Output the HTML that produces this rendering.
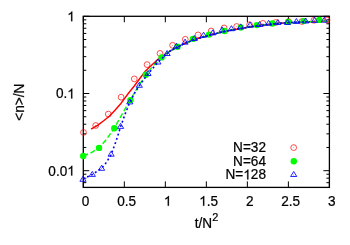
<!DOCTYPE html><html><head><meta charset="utf-8"><style>html,body{margin:0;padding:0;background:#fff}svg{display:block;will-change:transform;opacity:0.999}text{font-family:"Liberation Sans",sans-serif;font-size:13.6px;fill:#000;stroke:#000;stroke-width:0.22px}</style></head><body>
<svg width="350" height="245" viewBox="0 0 350 245">
<rect width="350" height="245" fill="#fff"/>
<path d="M83.30,187.4 V181.4 M83.30,16.3 V22.3 M124.32,187.4 V181.4 M124.32,16.3 V22.3 M165.33,187.4 V181.4 M165.33,16.3 V22.3 M206.35,187.4 V181.4 M206.35,16.3 V22.3 M247.37,187.4 V181.4 M247.37,16.3 V22.3 M288.38,187.4 V181.4 M288.38,16.3 V22.3 M329.40,187.4 V181.4 M329.40,16.3 V22.3 M83.3,16.30 H89.3 M329.4,16.30 H323.4 M83.3,93.50 H89.3 M329.4,93.50 H323.4 M83.3,70.26 H86.3 M329.4,70.26 H326.4 M83.3,56.67 H86.3 M329.4,56.67 H326.4 M83.3,47.02 H86.3 M329.4,47.02 H326.4 M83.3,39.54 H86.3 M329.4,39.54 H326.4 M83.3,33.43 H86.3 M329.4,33.43 H326.4 M83.3,28.26 H86.3 M329.4,28.26 H326.4 M83.3,23.78 H86.3 M329.4,23.78 H326.4 M83.3,19.83 H86.3 M329.4,19.83 H326.4 M83.3,170.70 H89.3 M329.4,170.70 H323.4 M83.3,147.46 H86.3 M329.4,147.46 H326.4 M83.3,133.87 H86.3 M329.4,133.87 H326.4 M83.3,124.22 H86.3 M329.4,124.22 H326.4 M83.3,116.74 H86.3 M329.4,116.74 H326.4 M83.3,110.63 H86.3 M329.4,110.63 H326.4 M83.3,105.46 H86.3 M329.4,105.46 H326.4 M83.3,100.98 H86.3 M329.4,100.98 H326.4 M83.3,97.03 H86.3 M329.4,97.03 H326.4 M83.3,182.66 H86.3 M329.4,182.66 H326.4 M83.3,178.18 H86.3 M329.4,178.18 H326.4 M83.3,174.23 H86.3 M329.4,174.23 H326.4" stroke="#000" stroke-width="1" fill="none"/>
<rect x="83.3" y="16.3" width="246.09999999999997" height="171.1" fill="none" stroke="#000" stroke-width="1.3"/>
<path transform="translate(67.24,21.20) scale(0.006641,-0.006641)" d="M763,0H583V1147Q518,1085 412.5,1023Q307,961 223,930V1104Q374,1175 487,1276Q600,1377 647,1472H763Z" fill="#000" stroke="#000" stroke-width="30"/>
<text transform="translate(55.90,98.40) scale(1,1.05)">0.</text><path transform="translate(67.24,98.40) scale(0.006641,-0.006641)" d="M763,0H583V1147Q518,1085 412.5,1023Q307,961 223,930V1104Q374,1175 487,1276Q600,1377 647,1472H763Z" fill="#000" stroke="#000" stroke-width="30"/>
<text transform="translate(48.33,175.60) scale(1,1.05)">0.0</text><path transform="translate(67.24,175.60) scale(0.006641,-0.006641)" d="M763,0H583V1147Q518,1085 412.5,1023Q307,961 223,930V1104Q374,1175 487,1276Q600,1377 647,1472H763Z" fill="#000" stroke="#000" stroke-width="30"/>
<text transform="translate(85.60,205.70) scale(1,1.05)" text-anchor="middle">0</text>
<text transform="translate(126.62,205.70) scale(1,1.05)" text-anchor="middle">0.5</text>
<path transform="translate(163.85,205.70) scale(0.006641,-0.006641)" d="M763,0H583V1147Q518,1085 412.5,1023Q307,961 223,930V1104Q374,1175 487,1276Q600,1377 647,1472H763Z" fill="#000" stroke="#000" stroke-width="30"/>
<path transform="translate(199.20,205.70) scale(0.006641,-0.006641)" d="M763,0H583V1147Q518,1085 412.5,1023Q307,961 223,930V1104Q374,1175 487,1276Q600,1377 647,1472H763Z" fill="#000" stroke="#000" stroke-width="30"/><text transform="translate(206.76,205.70) scale(1,1.05)">.5</text>
<text transform="translate(249.67,205.70) scale(1,1.05)" text-anchor="middle">2</text>
<text transform="translate(290.68,205.70) scale(1,1.05)" text-anchor="middle">2.5</text>
<text transform="translate(331.70,205.70) scale(1,1.05)" text-anchor="middle">3</text>
<text transform="translate(194.80,227.90) scale(1,1.05)" text-anchor="start">t/N<tspan dy="-6.6" font-size="10.9px">2</tspan></text>
<text transform="translate(23.6,120.8) rotate(-90) scale(1,1.05)">&lt;n&gt;/N</text>
<text transform="translate(266.00,152.00) scale(1,1.05)" text-anchor="end">N=32</text>
<text transform="translate(266.00,165.70) scale(1,1.05)" text-anchor="end">N=64</text>
<text transform="translate(225.55,179.40) scale(1,1.05)">N=</text><path transform="translate(243.31,179.40) scale(0.006641,-0.006641)" d="M763,0H583V1147Q518,1085 412.5,1023Q307,961 223,930V1104Q374,1175 487,1276Q600,1377 647,1472H763Z" fill="#000" stroke="#000" stroke-width="30"/><text transform="translate(250.87,179.40) scale(1,1.05)">28</text>
<path d="M91.1,129.2 L97.9,125.1 L104.0,120.5 L109.3,116.3 L115.0,110.3 L120.7,103.7 L124.3,98.9 L129.0,92.5 L134.3,86.0 L140.0,78.2 L145.7,70.8 L152.1,64.8 L158.0,59.3 L163.6,55.3 L170.3,50.9 L177.0,47.3 L185.0,43.3 L193.0,40.1 L200.0,37.9 L208.0,35.7 L216.0,33.6 L224.0,31.6 L232.0,30.0 L240.0,28.7 L248.0,27.3 L256.0,26.0 L264.0,25.0 L272.0,24.1 L280.0,23.3 L290.0,22.6 L300.0,22.1 L310.0,21.7 L320.0,21.3 L329.0,21.0" fill="none" stroke="#f00" stroke-width="1.45" stroke-linejoin="round"/>
<circle cx="83.5" cy="132.4" r="2.9" fill="none" stroke="#f00" stroke-width="0.7"/><circle cx="83.5" cy="132.4" r="0.4" fill="#f00"/>
<circle cx="95.7" cy="125.5" r="2.9" fill="none" stroke="#f00" stroke-width="0.7"/><circle cx="95.7" cy="125.5" r="0.4" fill="#f00"/>
<circle cx="108.3" cy="114.1" r="2.9" fill="none" stroke="#f00" stroke-width="0.7"/><circle cx="108.3" cy="114.1" r="0.4" fill="#f00"/>
<circle cx="121.1" cy="97.2" r="2.9" fill="none" stroke="#f00" stroke-width="0.7"/><circle cx="121.1" cy="97.2" r="0.4" fill="#f00"/>
<circle cx="134.3" cy="78.9" r="2.9" fill="none" stroke="#f00" stroke-width="0.7"/><circle cx="134.3" cy="78.9" r="0.4" fill="#f00"/>
<circle cx="147.1" cy="64.6" r="2.9" fill="none" stroke="#f00" stroke-width="0.7"/><circle cx="147.1" cy="64.6" r="0.4" fill="#f00"/>
<circle cx="160.0" cy="53.4" r="2.9" fill="none" stroke="#f00" stroke-width="0.7"/><circle cx="160.0" cy="53.4" r="0.4" fill="#f00"/>
<circle cx="172.6" cy="45.3" r="2.9" fill="none" stroke="#f00" stroke-width="0.7"/><circle cx="172.6" cy="45.3" r="0.4" fill="#f00"/>
<circle cx="185.3" cy="39.3" r="2.9" fill="none" stroke="#f00" stroke-width="0.7"/><circle cx="185.3" cy="39.3" r="0.4" fill="#f00"/>
<circle cx="198.1" cy="34.9" r="2.9" fill="none" stroke="#f00" stroke-width="0.7"/><circle cx="198.1" cy="34.9" r="0.4" fill="#f00"/>
<circle cx="211.2" cy="31.0" r="2.9" fill="none" stroke="#f00" stroke-width="0.7"/><circle cx="211.2" cy="31.0" r="0.4" fill="#f00"/>
<circle cx="224.1" cy="27.9" r="2.9" fill="none" stroke="#f00" stroke-width="0.7"/><circle cx="224.1" cy="27.9" r="0.4" fill="#f00"/>
<circle cx="236.7" cy="26.5" r="2.9" fill="none" stroke="#f00" stroke-width="0.7"/><circle cx="236.7" cy="26.5" r="0.4" fill="#f00"/>
<circle cx="249.6" cy="24.7" r="2.9" fill="none" stroke="#f00" stroke-width="0.7"/><circle cx="249.6" cy="24.7" r="0.4" fill="#f00"/>
<circle cx="262.9" cy="23.4" r="2.9" fill="none" stroke="#f00" stroke-width="0.7"/><circle cx="262.9" cy="23.4" r="0.4" fill="#f00"/>
<circle cx="275.7" cy="22.5" r="2.9" fill="none" stroke="#f00" stroke-width="0.7"/><circle cx="275.7" cy="22.5" r="0.4" fill="#f00"/>
<circle cx="288.6" cy="21.5" r="2.9" fill="none" stroke="#f00" stroke-width="0.7"/><circle cx="288.6" cy="21.5" r="0.4" fill="#f00"/>
<circle cx="302.0" cy="21.5" r="2.9" fill="none" stroke="#f00" stroke-width="0.7"/><circle cx="302.0" cy="21.5" r="0.4" fill="#f00"/>
<circle cx="313.9" cy="20.3" r="2.9" fill="none" stroke="#f00" stroke-width="0.7"/><circle cx="313.9" cy="20.3" r="0.4" fill="#f00"/>
<circle cx="327.0" cy="20.0" r="2.9" fill="none" stroke="#f00" stroke-width="0.7"/><circle cx="327.0" cy="20.0" r="0.4" fill="#f00"/>
<circle cx="293.7" cy="147.6" r="2.9" fill="none" stroke="#f00" stroke-width="0.7"/><circle cx="293.7" cy="147.6" r="0.4" fill="#f00"/>
<path d="M83.2,156.0 L91.0,152.8 L99.0,147.9 L106.5,139.3 L114.3,128.2 L122.0,114.3 L129.8,100.7 L138.0,86.8 L146.2,74.3 L154.0,64.8 L161.6,57.4 L166.0,53.9 L170.3,50.9 L177.0,47.3 L185.0,43.3 L193.0,40.1 L200.0,37.9 L208.0,35.7 L216.0,33.6 L224.0,31.6 L232.0,30.0 L240.0,28.7 L248.0,27.3 L256.0,26.0 L264.0,25.0 L272.0,24.1 L280.0,23.3 L290.0,22.6 L300.0,22.1 L310.0,21.7 L320.0,21.3 L329.0,21.0" fill="none" stroke="#0f0" stroke-width="1.45" stroke-dasharray="5.2 2.6" stroke-linejoin="round"/>
<circle cx="83.2" cy="156.0" r="3.2" fill="#0f0"/>
<circle cx="99.0" cy="147.9" r="3.2" fill="#0f0"/>
<circle cx="114.3" cy="128.2" r="3.2" fill="#0f0"/>
<circle cx="130.3" cy="100.1" r="3.2" fill="#0f0"/>
<circle cx="145.8" cy="74.7" r="3.2" fill="#0f0"/>
<circle cx="161.6" cy="57.4" r="3.2" fill="#0f0"/>
<circle cx="177.5" cy="46.7" r="3.2" fill="#0f0"/>
<circle cx="192.9" cy="38.9" r="3.2" fill="#0f0"/>
<circle cx="209.0" cy="34.6" r="3.2" fill="#0f0"/>
<circle cx="224.5" cy="31.0" r="3.2" fill="#0f0"/>
<circle cx="240.8" cy="27.5" r="3.2" fill="#0f0"/>
<circle cx="256.8" cy="25.1" r="3.2" fill="#0f0"/>
<circle cx="272.4" cy="23.5" r="3.2" fill="#0f0"/>
<circle cx="288.1" cy="21.9" r="3.2" fill="#0f0"/>
<circle cx="303.6" cy="21.1" r="3.2" fill="#0f0"/>
<circle cx="319.3" cy="19.9" r="3.2" fill="#0f0"/>
<circle cx="293.8" cy="161.3" r="3.2" fill="#0f0"/>
<path d="M83.0,178.9 L92.3,174.6 L101.6,168.2 L106.5,162.3 L111.1,154.6 L116.0,141.3 L120.6,126.8 L125.0,114.3 L129.8,102.3 L134.5,93.3 L139.3,85.7 L148.0,73.9 L157.9,62.4 L164.0,56.5" fill="none" stroke="#00f" stroke-width="1.6" stroke-dasharray="1.9 2.6" stroke-linejoin="round"/>
<path d="M164.0,56.5 L170.3,50.9 L177.0,47.3 L185.0,43.3 L193.0,40.1 L200.0,37.9 L208.0,35.7 L216.0,33.6 L224.0,31.6 L232.0,30.0 L240.0,28.7 L248.0,27.3 L256.0,26.0 L264.0,25.0 L272.0,24.1 L280.0,23.3 L290.0,22.6 L300.0,22.1 L310.0,21.7" fill="none" stroke="#00f" stroke-width="1.6" stroke-dasharray="2.4 1.2" stroke-linejoin="round"/>
<path d="M83.0,176.3 L86.1,181.3 L79.9,181.3 Z" fill="none" stroke="#00f" stroke-width="0.85"/><circle cx="83.0" cy="179.7" r="0.4" fill="#00f"/>
<path d="M92.3,171.4 L95.4,176.4 L89.2,176.4 Z" fill="none" stroke="#00f" stroke-width="0.85"/><circle cx="92.3" cy="174.8" r="0.4" fill="#00f"/>
<path d="M101.6,165.3 L104.7,170.3 L98.5,170.3 Z" fill="none" stroke="#00f" stroke-width="0.85"/><circle cx="101.6" cy="168.7" r="0.4" fill="#00f"/>
<path d="M111.1,151.2 L114.2,156.2 L108.0,156.2 Z" fill="none" stroke="#00f" stroke-width="0.85"/><circle cx="111.1" cy="154.6" r="0.4" fill="#00f"/>
<path d="M120.6,123.4 L123.7,128.4 L117.5,128.4 Z" fill="none" stroke="#00f" stroke-width="0.85"/><circle cx="120.6" cy="126.8" r="0.4" fill="#00f"/>
<path d="M129.8,98.9 L132.9,103.9 L126.7,103.9 Z" fill="none" stroke="#00f" stroke-width="0.85"/><circle cx="129.8" cy="102.3" r="0.4" fill="#00f"/>
<path d="M139.3,82.3 L142.4,87.3 L136.2,87.3 Z" fill="none" stroke="#00f" stroke-width="0.85"/><circle cx="139.3" cy="85.7" r="0.4" fill="#00f"/>
<path d="M148.0,70.5 L151.1,75.5 L144.9,75.5 Z" fill="none" stroke="#00f" stroke-width="0.85"/><circle cx="148.0" cy="73.9" r="0.4" fill="#00f"/>
<path d="M157.9,59.0 L161.0,64.0 L154.8,64.0 Z" fill="none" stroke="#00f" stroke-width="0.85"/><circle cx="157.9" cy="62.4" r="0.4" fill="#00f"/>
<path d="M167.1,50.5 L170.2,55.5 L164.0,55.5 Z" fill="none" stroke="#00f" stroke-width="0.85"/><circle cx="167.1" cy="53.9" r="0.4" fill="#00f"/>
<path d="M176.4,43.3 L179.5,48.3 L173.3,48.3 Z" fill="none" stroke="#00f" stroke-width="0.85"/><circle cx="176.4" cy="46.7" r="0.4" fill="#00f"/>
<path d="M185.0,39.2 L188.1,44.2 L181.9,44.2 Z" fill="none" stroke="#00f" stroke-width="0.85"/><circle cx="185.0" cy="42.6" r="0.4" fill="#00f"/>
<path d="M194.3,35.5 L197.4,40.5 L191.2,40.5 Z" fill="none" stroke="#00f" stroke-width="0.85"/><circle cx="194.3" cy="38.9" r="0.4" fill="#00f"/>
<path d="M203.6,32.2 L206.7,37.2 L200.5,37.2 Z" fill="none" stroke="#00f" stroke-width="0.85"/><circle cx="203.6" cy="35.6" r="0.4" fill="#00f"/>
<path d="M212.9,29.8 L216.0,34.8 L209.8,34.8 Z" fill="none" stroke="#00f" stroke-width="0.85"/><circle cx="212.9" cy="33.2" r="0.4" fill="#00f"/>
<path d="M222.1,26.9 L225.2,31.9 L219.0,31.9 Z" fill="none" stroke="#00f" stroke-width="0.85"/><circle cx="222.1" cy="30.3" r="0.4" fill="#00f"/>
<path d="M231.4,25.7 L234.5,30.7 L228.3,30.7 Z" fill="none" stroke="#00f" stroke-width="0.85"/><circle cx="231.4" cy="29.1" r="0.4" fill="#00f"/>
<path d="M240.7,23.9 L243.8,28.9 L237.6,28.9 Z" fill="none" stroke="#00f" stroke-width="0.85"/><circle cx="240.7" cy="27.3" r="0.4" fill="#00f"/>
<path d="M250.0,22.0 L253.1,27.0 L246.9,27.0 Z" fill="none" stroke="#00f" stroke-width="0.85"/><circle cx="250.0" cy="25.4" r="0.4" fill="#00f"/>
<path d="M259.6,21.5 L262.7,26.5 L256.5,26.5 Z" fill="none" stroke="#00f" stroke-width="0.85"/><circle cx="259.6" cy="24.9" r="0.4" fill="#00f"/>
<path d="M268.6,20.3 L271.7,25.3 L265.5,25.3 Z" fill="none" stroke="#00f" stroke-width="0.85"/><circle cx="268.6" cy="23.7" r="0.4" fill="#00f"/>
<path d="M277.9,19.5 L281.0,24.5 L274.8,24.5 Z" fill="none" stroke="#00f" stroke-width="0.85"/><circle cx="277.9" cy="22.9" r="0.4" fill="#00f"/>
<path d="M287.5,19.5 L290.6,24.5 L284.4,24.5 Z" fill="none" stroke="#00f" stroke-width="0.85"/><circle cx="287.5" cy="22.9" r="0.4" fill="#00f"/>
<path d="M296.4,18.5 L299.5,23.5 L293.3,23.5 Z" fill="none" stroke="#00f" stroke-width="0.85"/><circle cx="296.4" cy="21.9" r="0.4" fill="#00f"/>
<path d="M305.7,18.0 L308.8,23.0 L302.6,23.0 Z" fill="none" stroke="#00f" stroke-width="0.85"/><circle cx="305.7" cy="21.4" r="0.4" fill="#00f"/>
<path d="M314.5,17.4 L317.6,22.4 L311.4,22.4 Z" fill="none" stroke="#00f" stroke-width="0.85"/><circle cx="314.5" cy="20.8" r="0.4" fill="#00f"/>
<path d="M324.3,17.2 L327.4,22.2 L321.2,22.2 Z" fill="none" stroke="#00f" stroke-width="0.85"/><circle cx="324.3" cy="20.6" r="0.4" fill="#00f"/>
<path d="M293.7,171.5 L296.8,176.5 L290.6,176.5 Z" fill="none" stroke="#00f" stroke-width="0.85"/><circle cx="293.7" cy="174.9" r="0.4" fill="#00f"/>
</svg></body></html>
